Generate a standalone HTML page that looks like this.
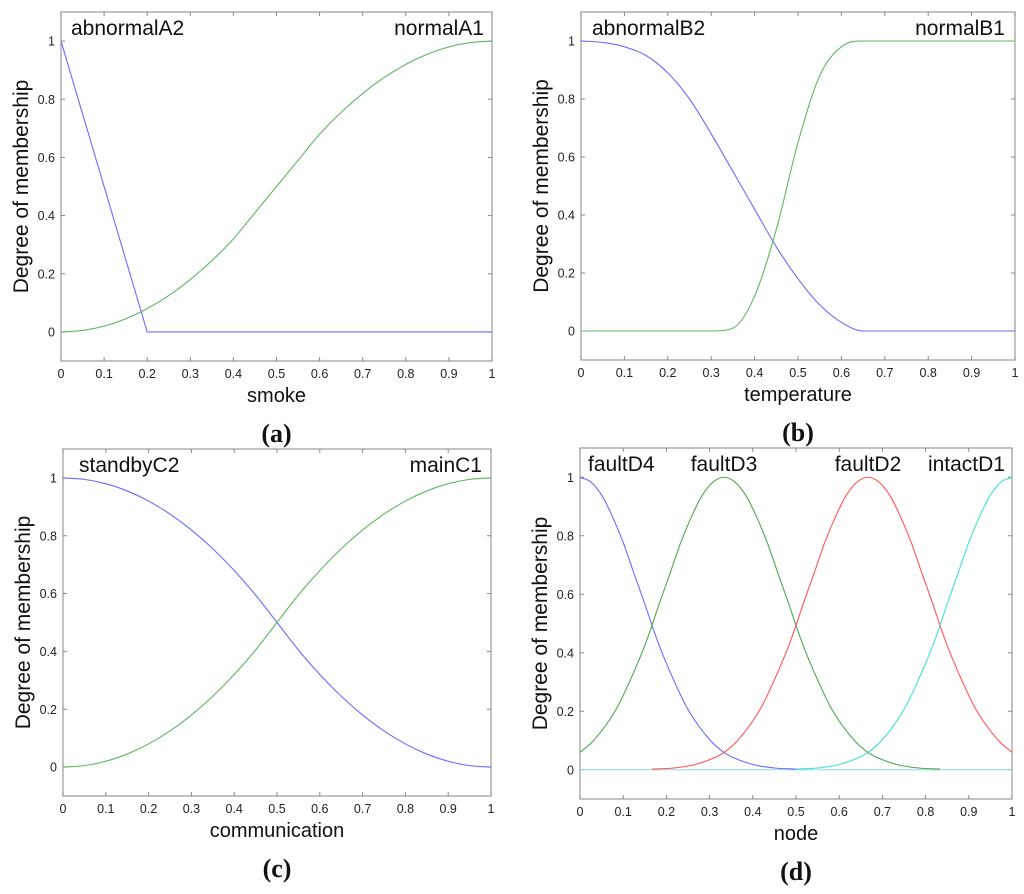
<!DOCTYPE html>
<html><head><meta charset="utf-8"><style>
html,body{margin:0;padding:0;background:#fff;}
svg{display:block;font-family:"Liberation Sans",sans-serif;}
</style></head><body>
<svg id="fig" width="1024" height="894" viewBox="0 0 1024 894"></svg>
<script>
const xTicks = [0,0.1,0.2,0.3,0.4,0.5,0.6,0.7,0.8,0.9,1];
const xTickLabels = ["0","0.1","0.2","0.3","0.4","0.5","0.6","0.7","0.8","0.9","1"];
const yTicks = [0,0.2,0.4,0.6,0.8,1];
const yTickLabels = ["0","0.2","0.4","0.6","0.8","1"];
const grid05 = [0,0.05,0.1,0.15,0.2,0.25,0.3,0.35,0.4,0.45,0.5,0.55,0.6,0.65,0.7,0.75,0.8,0.85,0.9,0.95,1];
// (a) smoke
const smokeNormalY = [0,0.005,0.02,0.045,0.08,0.125,0.18,0.245,0.32,0.41,0.5,0.59,0.68,0.755,0.82,0.875,0.92,0.955,0.98,0.995,1];
const smokeAbnormalX = [0,0.2,1];
const smokeAbnormalY = [1,0,0];
// (b) temperature
const tempAbnormalY = [1,0.995,0.98,0.95,0.89,0.8,0.68,0.55,0.42,0.29,0.18,0.09,0.03,0,0,0,0,0,0,0,0];
const tempNormalY = [0,0,0,0,0,0,0,0.01,0.12,0.35,0.65,0.88,0.98,1,1,1,1,1,1,1,1];
// (c) communication
const commStandbyY = [1,0.995,0.98,0.955,0.92,0.875,0.82,0.755,0.68,0.595,0.5,0.405,0.32,0.245,0.18,0.125,0.08,0.045,0.02,0.005,0];
const commMainY = [0,0.005,0.02,0.045,0.08,0.125,0.18,0.245,0.32,0.405,0.5,0.595,0.68,0.755,0.82,0.875,0.92,0.955,0.98,0.995,1];
// (d) node: gaussian profile vs distance from centre
const nodeCenters = [0,0.3333,0.6667,1];
const nodeProfileD = [0,0.025,0.05,0.075,0.1,0.125,0.15,0.175,0.2,0.25,0.3,0.3333,0.35,0.4,0.45,0.5];
const nodeProfileY = [1,0.984,0.939,0.866,0.777,0.671,0.567,0.458,0.364,0.206,0.103,0.059,0.045,0.018,0.006,0.002];

const NS="http://www.w3.org/2000/svg";
const svg=document.getElementById('fig');
function el(tag,attrs,parent){const e=document.createElementNS(NS,tag);for(const k in attrs)e.setAttribute(k,attrs[k]);(parent||svg).appendChild(e);return e;}

function smoothPath(pts){
  const n=pts.length;
  if(n<3) return "M"+pts.map(q=>q[0].toFixed(2)+","+q[1].toFixed(2)).join(" L");
  const dx=[],m=[],t=[];
  for(let i=0;i<n-1;i++){dx[i]=pts[i+1][0]-pts[i][0];m[i]=dx[i]?(pts[i+1][1]-pts[i][1])/dx[i]:0;}
  t[0]=m[0];t[n-1]=m[n-2];
  for(let i=1;i<n-1;i++){t[i]=(m[i-1]*m[i]<=0)?0:(m[i-1]+m[i])/2;}
  for(let i=0;i<n-1;i++){
    if(m[i]===0){t[i]=0;t[i+1]=0;continue;}
    const a=t[i]/m[i],b=t[i+1]/m[i],s=a*a+b*b;
    if(s>9){const k=3/Math.sqrt(s);t[i]=k*a*m[i];t[i+1]=k*b*m[i];}
  }
  let d="M"+pts[0][0].toFixed(2)+","+pts[0][1].toFixed(2);
  for(let i=0;i<n-1;i++){
    const h=dx[i]/3;
    d+=" C"+(pts[i][0]+h).toFixed(2)+","+(pts[i][1]+t[i]*h).toFixed(2)+" "+(pts[i+1][0]-h).toFixed(2)+","+(pts[i+1][1]-t[i+1]*h).toFixed(2)+" "+pts[i+1][0].toFixed(2)+","+pts[i+1][1].toFixed(2);
  }
  return d;
}

function panel(p){
  const g=el('g',{});
  
  
  const sx=v=>p.x0+(p.x1-p.x0)*v;
  const sy=v=>p.yb-(p.yb-p.yt)*(v+0.1)/1.2;
  const box=el('rect',{x:p.x0,y:p.yt,width:p.x1-p.x0,height:p.yb-p.yt,fill:'none',stroke:'#999','stroke-width':1.2},g);
  
  
  xTicks.forEach((t,i)=>{
    const x=sx(t);
    el('line',{x1:x,x2:x,y1:p.yb,y2:p.yb-4,stroke:'#888'},g);
    el('line',{x1:x,x2:x,y1:p.yt,y2:p.yt+4,stroke:'#888'},g);
    const tx=el('text',{x:x,y:p.yb+17,'font-size':12.5,'text-anchor':'middle',fill:'#222'},g);
    tx.textContent=xTickLabels[i];
    
    
  });
  yTicks.forEach((t,i)=>{
    const y=sy(t);
    el('line',{x1:p.x0,x2:p.x0+4,y1:y,y2:y,stroke:'#888'},g);
    el('line',{x1:p.x1,x2:p.x1-4,y1:y,y2:y,stroke:'#888'},g);
    const tx=el('text',{x:p.x0-6,y:y+4.5,'font-size':12.5,'text-anchor':'end',fill:'#222'},g);
    tx.textContent=yTickLabels[i];
    
    
  });
  p.series.forEach(s=>{
    const pts=s.xs.map((x,i)=>[sx(x),sy(s.ys[i])]);
    const path=el('path',{d:s.linear?("M"+pts.map(q=>q.join(',')).join(' L')):smoothPath(pts),fill:'none',stroke:s.color,'stroke-width':1.1},g);
    
    
  });
  p.labels.forEach(l=>{
    const t=el('text',{x:l.x,y:p.yt+23,'font-size':21,'text-anchor':l.anchor,fill:'#111'},g);
    t.textContent=l.text;
    
    
  });
  const xl=el('text',{x:(p.x0+p.x1)/2,y:p.yb+41,'font-size':20,'text-anchor':'middle',fill:'#111'},g);
  xl.textContent=p.xlabel;
  
  
  const yl=el('text',{x:0,y:0,'font-size':21,'text-anchor':'middle',fill:'#111',transform:`translate(${p.x0-33},${(p.yt+p.yb)/2}) rotate(-90)`},g);
  yl.textContent='Degree of membership';
  
  
  const cap=el('text',{x:(p.x0+p.x1)/2,y:p.yb+81,'font-size':26,'font-weight':'bold','text-anchor':'middle',fill:'#111','font-family':'"Liberation Serif",serif'},g);
  cap.textContent=p.caption;
  
  
}

panel({name:'panel-a-smoke',x0:61,x1:492,yt:12,yb:361,xlabel:'smoke',caption:'(a)',
  labels:[{text:'abnormalA2',x:71,anchor:'start'},{text:'normalA1',x:484,anchor:'end'}],
  series:[{name:'abnormalA2-line',color:'#6b6bff',xs:smokeAbnormalX,ys:smokeAbnormalY,linear:true},
          {name:'normalA1-line',color:'#5cb85c',xs:grid05,ys:smokeNormalY}]});
panel({name:'panel-b-temperature',x0:581,x1:1015,yt:12,yb:360,xlabel:'temperature',caption:'(b)',
  labels:[{text:'abnormalB2',x:592,anchor:'start'},{text:'normalB1',x:1005,anchor:'end'}],
  series:[{name:'abnormalB2-line',color:'#6b6bff',xs:grid05,ys:tempAbnormalY},
          {name:'normalB1-line',color:'#5cb85c',xs:grid05,ys:tempNormalY}]});
panel({name:'panel-c-communication',x0:63,x1:491,yt:449,yb:796,xlabel:'communication',caption:'(c)',
  labels:[{text:'standbyC2',x:79,anchor:'start'},{text:'mainC1',x:482,anchor:'end'}],
  series:[{name:'standbyC2-line',color:'#6b6bff',xs:grid05,ys:commStandbyY},
          {name:'mainC1-line',color:'#5cb85c',xs:grid05,ys:commMainY}]});

const nodeColors=['#6b6bff','#4ea84e','#ff5555','#44dddd'];
const nodeNames=['faultD4-line','faultD3-line','faultD2-line','intactD1-line'];
const nodeSeries=[{name:'zero-baseline',color:'#88dddd',xs:[0,1],ys:[0,0],linear:true}];
nodeCenters.forEach((c,k)=>{
  const xs=[],ys=[];
  for(let i=nodeProfileD.length-1;i>0;i--){let x=c-nodeProfileD[i];if(x>=-0.002){xs.push(Math.max(0,x));ys.push(nodeProfileY[i]);}}
  for(let i=0;i<nodeProfileD.length;i++){let x=c+nodeProfileD[i];if(x<=1.002){xs.push(Math.min(1,x));ys.push(nodeProfileY[i]);}}
  nodeSeries.push({name:nodeNames[k],color:nodeColors[k],xs:xs,ys:ys});
});
panel({name:'panel-d-node',x0:580,x1:1012,yt:448,yb:799,xlabel:'node',caption:'(d)',
  labels:[{text:'faultD4',x:588,anchor:'start'},{text:'faultD3',x:724,anchor:'middle'},{text:'faultD2',x:868,anchor:'middle'},{text:'intactD1',x:1005,anchor:'end'}],
  series:nodeSeries});
</script>
</body></html>
